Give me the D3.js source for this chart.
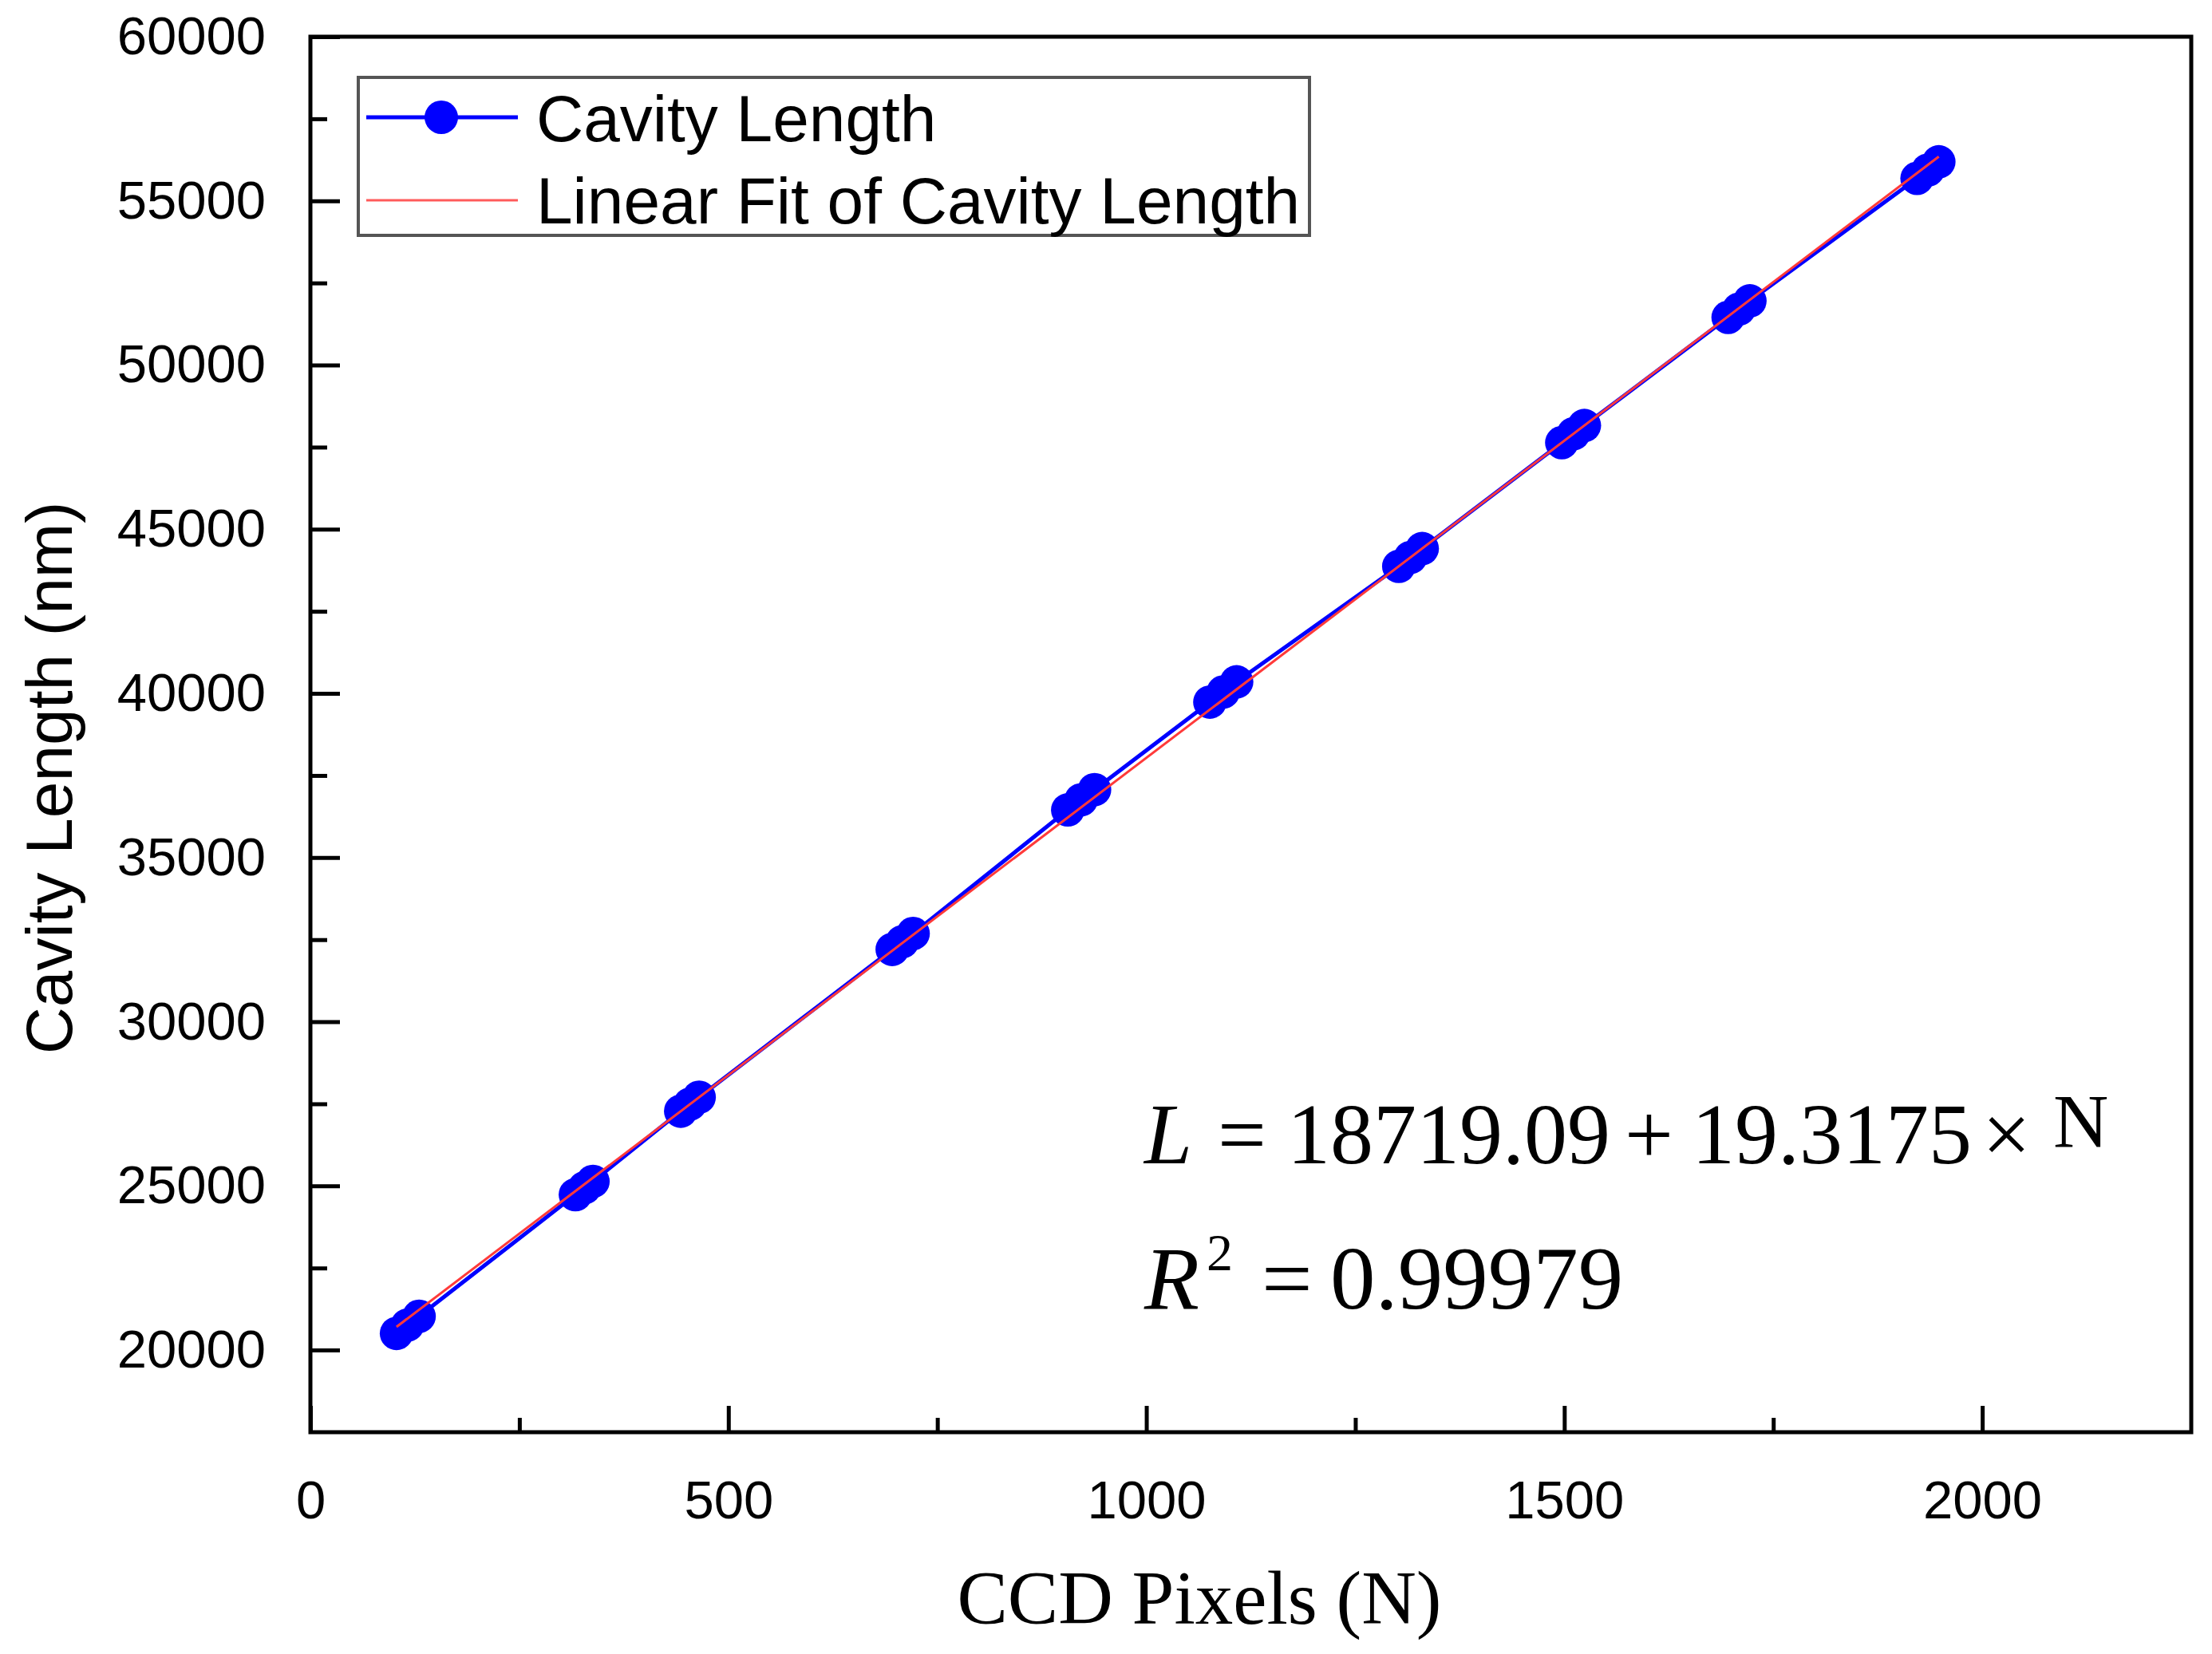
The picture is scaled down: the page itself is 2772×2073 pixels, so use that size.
<!DOCTYPE html>
<html>
<head>
<meta charset="utf-8">
<script src="https://cdnjs.cloudflare.com/ajax/libs/d3/7.8.5/d3.min.js"></script>
<style>
  body { margin: 0; background: #fff; }
  svg { display: block; }
  .tick text { font-family: "Liberation Sans", Arial, sans-serif; font-size: 67px; fill: #000; }
</style>
</head>
<body>
<div id="chart"></div>
<script>
// measured CCD pixel positions and cavity lengths (nm)
const pixels = [103, 116, 130, 317, 328, 338, 443, 454, 465, 696, 708, 721,
                906, 922, 938, 1076, 1092, 1108, 1302, 1316, 1330, 1497, 1511, 1524,
                1696, 1709, 1722, 1922, 1935, 1948];
const cavityLength = [20509, 20760, 21030, 24733, 24945, 25138, 27277, 27489, 27702,
                      32204, 32436, 32687, 36451, 36760, 37069, 39735, 40044, 40353,
                      43870, 44141, 44411, 47637, 47908, 48159, 51452, 51703, 51954,
                      55687, 55938, 56190];

// linear fit end points
const fitPixels = [103, 1948];
const fitLength = [20708.8, 56349.6];

const xTicks = [0, 500, 1000, 1500, 2000];
const xMinorTicks = [250, 750, 1250, 1750];
const yTicks = [20000, 25000, 30000, 35000, 40000, 45000, 50000, 55000, 60000];
const yMinorTicks = [22500, 27500, 32500, 37500, 42500, 47500, 52500, 57500];

const W = 2772, H = 2073;
const margin = { left: 389, right: 26, top: 46, bottom: 278 };

const svg = d3.select('#chart').append('svg')
    .attr('width', W)
    .attr('height', H);

svg.append('rect').attr('width', W).attr('height', H).attr('fill', '#fff');

const xScale = d3.scaleLinear().domain([0, 2250]).range([margin.left, W - margin.right]);
const yScale = d3.scaleLinear().domain([17500, 60000]).range([H - margin.bottom, margin.top]);

const points = pixels.map((n, i) => ({ n: n, l: cavityLength[i] }));
const fit = fitPixels.map((n, i) => ({ n: n, l: fitLength[i] }));

const line = d3.line()
    .x(d => xScale(d.n))
    .y(d => yScale(d.l));

// data line + markers
svg.append('path')
    .datum(points)
    .attr('d', line)
    .attr('fill', 'none')
    .attr('stroke', '#0000ff')
    .attr('stroke-width', 5);

svg.selectAll('.dot')
    .data(points)
    .enter()
    .append('circle')
    .attr('class', 'dot')
    .attr('cx', d => xScale(d.n))
    .attr('cy', d => yScale(d.l))
    .attr('r', 21)
    .attr('fill', '#0000ff');

// fit line on top
svg.append('path')
    .datum(fit)
    .attr('d', line)
    .attr('fill', 'none')
    .attr('stroke', '#ff3a3a')
    .attr('stroke-width', 3);

// axes, ticks pointing inward
const x0 = xScale.range()[0], x1 = xScale.range()[1];
const y0 = yScale.range()[0], y1 = yScale.range()[1];

const yAxis = svg.append('g')
    .attr('transform', `translate(${x0},0)`)
    .call(d3.axisLeft(yScale).tickValues(yTicks).tickSizeInner(-37).tickSizeOuter(0)
        .tickPadding(56).tickFormat(d => d));
yAxis.select('.domain').remove();
yAxis.selectAll('.tick line').attr('stroke', '#000').attr('stroke-width', 5);

const yMinor = svg.append('g')
    .attr('transform', `translate(${x0},0)`)
    .call(d3.axisLeft(yScale).tickValues(yMinorTicks).tickSizeInner(-21).tickSizeOuter(0).tickFormat(''));
yMinor.select('.domain').remove();
yMinor.selectAll('.tick line').attr('stroke', '#000').attr('stroke-width', 5);

const xAxis = svg.append('g')
    .attr('transform', `translate(0,${y0})`)
    .call(d3.axisBottom(xScale).tickValues(xTicks).tickSizeInner(-33).tickSizeOuter(0)
        .tickPadding(60).tickFormat(d => d));
xAxis.select('.domain').remove();
xAxis.selectAll('.tick line').attr('stroke', '#000').attr('stroke-width', 5);

const xMinor = svg.append('g')
    .attr('transform', `translate(0,${y0})`)
    .call(d3.axisBottom(xScale).tickValues(xMinorTicks).tickSizeInner(-18).tickSizeOuter(0).tickFormat(''));
xMinor.select('.domain').remove();
xMinor.selectAll('.tick line').attr('stroke', '#000').attr('stroke-width', 5);

// frame
svg.append('rect')
    .attr('x', x0)
    .attr('y', y1)
    .attr('width', x1 - x0)
    .attr('height', y0 - y1)
    .attr('fill', 'none')
    .attr('stroke', '#000')
    .attr('stroke-width', 5);

// axis titles
svg.append('text')
    .attr('transform', 'rotate(-90)')
    .attr('x', -975)
    .attr('y', 90)
    .attr('text-anchor', 'middle')
    .style('font-family', '"Liberation Sans", Arial, sans-serif')
    .style('font-size', '82px')
    .text('Cavity Length (nm)');

svg.append('text')
    .attr('x', 1503)
    .attr('y', 2035)
    .attr('text-anchor', 'middle')
    .style('font-family', '"Liberation Serif", "Times New Roman", serif')
    .style('font-size', '95px')
    .text('CCD Pixels (N)');

// legend
const legend = svg.append('g').attr('class', 'legend');

legend.append('rect')
    .attr('x', 449)
    .attr('y', 97)
    .attr('width', 1192)
    .attr('height', 198)
    .attr('fill', '#fff')
    .attr('stroke', '#555')
    .attr('stroke-width', 4);

legend.append('line')
    .attr('x1', 459).attr('x2', 649)
    .attr('y1', 147).attr('y2', 147)
    .attr('stroke', '#0000ff')
    .attr('stroke-width', 5);

legend.append('circle')
    .attr('cx', 553)
    .attr('cy', 147)
    .attr('r', 21)
    .attr('fill', '#0000ff');

legend.append('line')
    .attr('x1', 459).attr('x2', 649)
    .attr('y1', 251).attr('y2', 251)
    .attr('stroke', '#ff5a5a')
    .attr('stroke-width', 3);

const legendLabels = ['Cavity Length', 'Linear Fit of Cavity Length'];
legendLabels.forEach((label, i) => {
    legend.append('text')
        .attr('x', 672)
        .attr('y', i === 0 ? 177 : 280)
        .style('font-family', '"Liberation Sans", Arial, sans-serif')
        .style('font-size', '82px')
        .text(label);
});

// fit equation
const serif = '"Liberation Serif", "Times New Roman", serif';
const eq = svg.append('g').style('font-family', serif);

const eq1 = eq.append('text').attr('y', 1458).style('font-size', '108px');
eq1.append('tspan').attr('x', 1434).style('font-style', 'italic').text('L');
eq1.append('tspan').attr('x', 1526).text('=');
eq1.append('tspan').attr('x', 1613).text('18719.09');
eq1.append('tspan').attr('x', 2036).text('+');
eq1.append('tspan').attr('x', 2120).text('19.3175');
eq1.append('tspan').attr('x', 2484).text('×');
eq.append('text')
    .attr('x', 2573)
    .attr('y', 1438)
    .style('font-size', '96px')
    .text('N');

const eq2 = eq.append('text').attr('y', 1640).style('font-size', '113px');
eq2.append('tspan').attr('x', 1434).style('font-style', 'italic').text('R');
eq2.append('tspan').attr('x', 1581).text('=');
eq2.append('tspan').attr('x', 1667).text('0.99979');
eq.append('text')
    .attr('x', 1512)
    .attr('y', 1592)
    .style('font-size', '66px')
    .text('2');
</script>
</body>
</html>
